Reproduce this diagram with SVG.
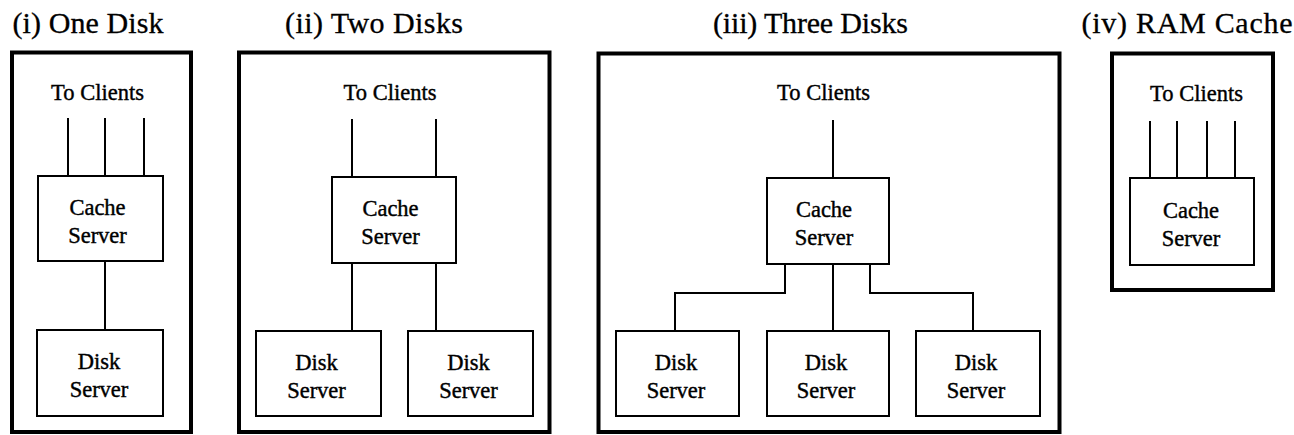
<svg xmlns="http://www.w3.org/2000/svg" width="1294" height="435" viewBox="0 0 1294 435">
<style>
text{font-family:"Liberation Serif","Times New Roman",Times,serif;fill:#000;text-anchor:middle}
.title{font-size:30px;stroke:#000;stroke-width:0.3}
.lbl{font-size:22.5px;stroke:#000;stroke-width:0.4}
.frame{fill:none;stroke:#000;stroke-width:4}
.box{fill:#fff;stroke:#000;stroke-width:2}
.wire{fill:none;stroke:#000;stroke-width:2}
</style>
<rect x="0" y="0" width="1294" height="435" fill="#fff"/>
<g id="panel-i">
<text class="title" x="88" y="33" textLength="151" lengthAdjust="spacing">(i) One Disk</text>
<rect class="frame" x="12" y="52.5" width="179" height="379.5"/>
<text class="lbl" x="97.5" y="100">To Clients</text>
</g>
<g id="panel-ii">
<text class="title" x="374" y="33" textLength="178" lengthAdjust="spacing">(ii) Two Disks</text>
<rect class="frame" x="239" y="52.5" width="310.5" height="379.5"/>
<text class="lbl" x="390" y="100">To Clients</text>
</g>
<g id="panel-iii">
<text class="title" x="810.5" y="33" textLength="195" lengthAdjust="spacing">(iii) Three Disks</text>
<rect class="frame" x="598.5" y="53.5" width="461" height="378.5"/>
<text class="lbl" x="823.5" y="100">To Clients</text>
</g>
<g id="panel-iv">
<text class="title" x="1187" y="33" textLength="211" lengthAdjust="spacing">(iv) RAM Cache</text>
<rect class="frame" x="1112" y="53.5" width="161" height="236.5"/>
<text class="lbl" x="1196.5" y="101">To Clients</text>
</g>
<g id="connectors">
<path class="wire" d="M68 118V176M105 118V176M144 118V176M105 261V330"/>
<path class="wire" d="M352 119V177M436 119V177M352 263V331M436 263V331"/>
<path class="wire" d="M833 120V178M833 264V331M785 264V293H675V331M870 264V293H973V331"/>
<path class="wire" d="M1150 121V178M1177 121V178M1207 121V178M1235 121V178"/>
</g>
<g id="cache-i">
<rect class="box" x="38" y="176" width="125" height="85"/>
<text class="lbl" x="97.5" y="215">Cache</text>
<text class="lbl" x="97.5" y="243">Server</text>
</g>
<g id="disk-i">
<rect class="box" x="37" y="330" width="126" height="86"/>
<text class="lbl" x="99" y="369">Disk</text>
<text class="lbl" x="99" y="397">Server</text>
</g>
<g id="cache-ii">
<rect class="box" x="332" y="177" width="124" height="86"/>
<text class="lbl" x="390.5" y="216">Cache</text>
<text class="lbl" x="390.5" y="244">Server</text>
</g>
<g id="disk-ii-a">
<rect class="box" x="256" y="331" width="125" height="85"/>
<text class="lbl" x="316.5" y="370">Disk</text>
<text class="lbl" x="316.5" y="398">Server</text>
</g>
<g id="disk-ii-b">
<rect class="box" x="408" y="331" width="125" height="85"/>
<text class="lbl" x="468.5" y="370">Disk</text>
<text class="lbl" x="468.5" y="398">Server</text>
</g>
<g id="cache-iii">
<rect class="box" x="767" y="178" width="122" height="86"/>
<text class="lbl" x="824" y="217">Cache</text>
<text class="lbl" x="824" y="245">Server</text>
</g>
<g id="disk-iii-a">
<rect class="box" x="616" y="331" width="123" height="85"/>
<text class="lbl" x="676" y="370">Disk</text>
<text class="lbl" x="676" y="398">Server</text>
</g>
<g id="disk-iii-b">
<rect class="box" x="767" y="331" width="122" height="85"/>
<text class="lbl" x="826" y="370">Disk</text>
<text class="lbl" x="826" y="398">Server</text>
</g>
<g id="disk-iii-c">
<rect class="box" x="916" y="331" width="124" height="85"/>
<text class="lbl" x="976" y="370">Disk</text>
<text class="lbl" x="976" y="398">Server</text>
</g>
<g id="cache-iv">
<rect class="box" x="1130" y="178" width="124" height="87"/>
<text class="lbl" x="1191" y="218">Cache</text>
<text class="lbl" x="1191" y="246">Server</text>
</g>
</svg>
